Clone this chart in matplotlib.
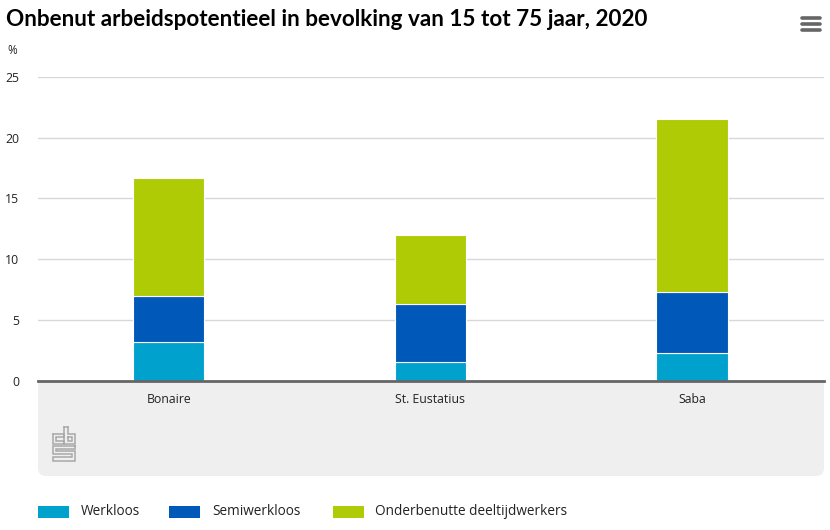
import matplotlib
matplotlib.use('Agg')
import matplotlib.pyplot as plt
from matplotlib.patches import FancyBboxPatch, Rectangle

plt.rcParams['font.family'] = ['Open Sans', 'DejaVu Sans']

W, H = 830, 530

categories = ['Bonaire', 'St. Eustatius', 'Saba']
werkloos = [3.2, 1.5, 2.3]
semiwerkloos = [3.8, 4.8, 5.0]
onderbenut = [9.7, 5.7, 14.2]
series_names = ['Werkloos', 'Semiwerkloos', 'Onderbenutte deeltijdwerkers']
colors = ['#00a1cd', '#0058b8', '#afcb05']
y_ticks = [0, 5, 10, 15, 20, 25]

fig = plt.figure(figsize=(W / 100, H / 100), dpi=100)

# everything outside the plot area is placed in pixels, y going down
bg = fig.add_axes([0, 0, 1, 1])
bg.set_xlim(0, W)
bg.set_ylim(H, 0)
bg.axis('off')

bg.add_patch(FancyBboxPatch((38, 381), 786, 95, boxstyle='round,pad=0,rounding_size=8',
                            fc='#efefef', ec='none'))
bg.add_patch(Rectangle((38, 381), 786, 20, fc='#efefef', ec='none'))

bg.text(6, 19, 'Onbenut arbeidspotentieel in bevolking van 15 tot 75 jaar, 2020',
        fontsize=16.2, fontweight='bold', color='#000000', va='center', ha='left',
        family=['Lato', 'DejaVu Sans'])
bg.text(7, 51, '%', fontsize=8.5, color='#222222', va='center', ha='left')

# menu icon
for yy in [18, 24, 30]:
    bg.plot([802, 820], [yy, yy], color='#666666', lw=2.6, solid_capstyle='round')

# cbs logo
logo = [
    ([53, 53, 64, 64, 56, 56, 64], [434, 444, 444, 441, 441, 437, 437]),
    ([53, 64, 64], [434, 434, 437]),
    ([64, 64, 75, 75, 68, 68], [427, 444, 444, 434, 434, 427]),
    ([64, 68], [427, 427]),
    ([68, 72, 72, 68, 68], [437, 437, 441, 441, 437]),
    ([75, 53, 53, 72, 72, 53, 53, 75, 75, 56, 56, 75, 75], [446, 446, 454, 454, 457, 457, 461, 461, 451, 451, 449, 449, 446]),
]
for xs, ys in logo:
    bg.plot(xs, ys, color='#a8a8a8', lw=1.1, solid_joinstyle='miter')

# legend
for x0, x_txt, col, name in zip([38, 169, 333], [81, 212, 375], colors, series_names):
    bg.add_patch(Rectangle((x0, 506), 31, 12, fc=col, ec='none'))
    bg.text(x_txt, 511.5, name, fontsize=9.8, color='#222222', va='center', ha='left')

# plot area
ax_left, ax_right, ax_top, ax_bottom = 38, 824, 77, 380.5
ax = fig.add_axes([ax_left / W, 1 - ax_bottom / H, (ax_right - ax_left) / W, (ax_bottom - ax_top) / H])
ax.patch.set_alpha(0)
pos = list(range(len(categories)))
bottom = [0, 0, 0]
for vals, col in zip([werkloos, semiwerkloos, onderbenut], colors):
    ax.bar(pos, vals, bottom=bottom, width=0.273, color=col, edgecolor='white', linewidth=0.8, zorder=3)
    bottom = [b + v for b, v in zip(bottom, vals)]

ax.set_xlim(-0.5, 2.505)
ax.set_ylim(0, 25)
ax.set_yticks(y_ticks)
ax.set_xticks(pos)
ax.set_xticklabels(categories, fontsize=8.8, color='#222222')
ax.tick_params(axis='x', length=0, pad=9)
ax.tick_params(axis='y', length=0, labelsize=8.8, labelcolor='#222222', pad=13.5)
ax.grid(axis='y', color='#d8d8d8', lw=1, zorder=0)
for side in ['top', 'right', 'left']:
    ax.spines[side].set_visible(False)
ax.spines['bottom'].set_color('#666666')
ax.spines['bottom'].set_linewidth(2)
ax.spines['bottom'].set_zorder(5)

fig.savefig('out.png', dpi=100)
